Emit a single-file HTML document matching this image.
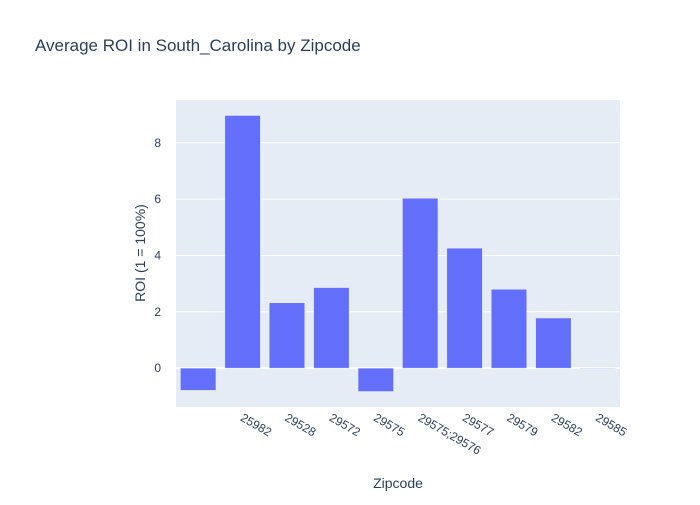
<!DOCTYPE html>
<html><head><meta charset="utf-8"><style>body{margin:0;background:#fff}svg text{font-family:"Liberation Sans",Arial,sans-serif}</style></head>
<body>
<svg id="chart" width="700" height="500" xmlns="http://www.w3.org/2000/svg">
<rect width="700" height="500" fill="#fff"/>
<text x="35" y="51" font-size="17" fill="#2a3f5f">Average ROI in South_Carolina by Zipcode</text>
<rect x="176" y="100" width="444" height="307" fill="#e5ecf6"/>
<g id="grid"></g><g id="bars"></g><g id="xt"></g><g id="yt"></g>
<text x="398" y="488" font-size="14" fill="#2a3f5f" text-anchor="middle">Zipcode</text>
<text transform="translate(145,253) rotate(-90)" font-size="14" fill="#2a3f5f" text-anchor="middle">ROI (1 = 100%)</text>
</svg>
<script>
const categories = ["", "25982", "29528", "29572", "29575", "29575;29576", "29577", "29579", "29582", "29585"];
const roiValues = [-0.79, 8.97, 2.32, 2.86, -0.83, 6.03, 4.26, 2.80, 1.78, -0.02];
const yTicks = [0, 2, 4, 6, 8];
const NS = "http://www.w3.org/2000/svg";
const X0 = 176, W = 444, Y0 = 100, H = 307, yMin = -1.38, yMax = 9.52;
const band = W / categories.length;
const y = v => Y0 + H * (yMax - v) / (yMax - yMin);
const xc = i => X0 + band * (i + 0.5);
function mk(t, a, p) { const e = document.createElementNS(NS, t); for (const k in a) e.setAttribute(k, a[k]); p.appendChild(e); return e; }
const grid = document.getElementById('grid'), yt = document.getElementById('yt');
yTicks.forEach(t => {
  const l = mk('line', {x1: X0, x2: X0 + W, y1: y(t), y2: y(t), stroke: '#fff', 'stroke-width': t === 0 ? 2 : 1}, grid);
  
  
  const tx = mk('text', {x: X0 - 15, y: y(t) + 4, 'font-size': 12, fill: '#2a3f5f', 'text-anchor': 'end'}, yt);
  tx.textContent = t;
  
  
});
const bars = document.getElementById('bars'), xt = document.getElementById('xt');
roiValues.forEach((v, i) => {
  const bw = band * 0.8;
  const r = mk('rect', {x: xc(i) - bw / 2, y: Math.min(y(v), y(0)), width: bw, height: Math.max(Math.abs(y(v) - y(0)), 0.5), fill: '#636efa', stroke: '#e5ecf6', 'stroke-width': 0.5}, bars);
  
  
  if (categories[i]) {
    const tx = mk('text', {transform: `translate(${xc(i) - 3},${Y0 + H + 13}) rotate(30)`, 'font-size': 12, fill: '#2a3f5f'}, xt);
    tx.textContent = categories[i];
    
    
  }
});
</script>
</body></html>
